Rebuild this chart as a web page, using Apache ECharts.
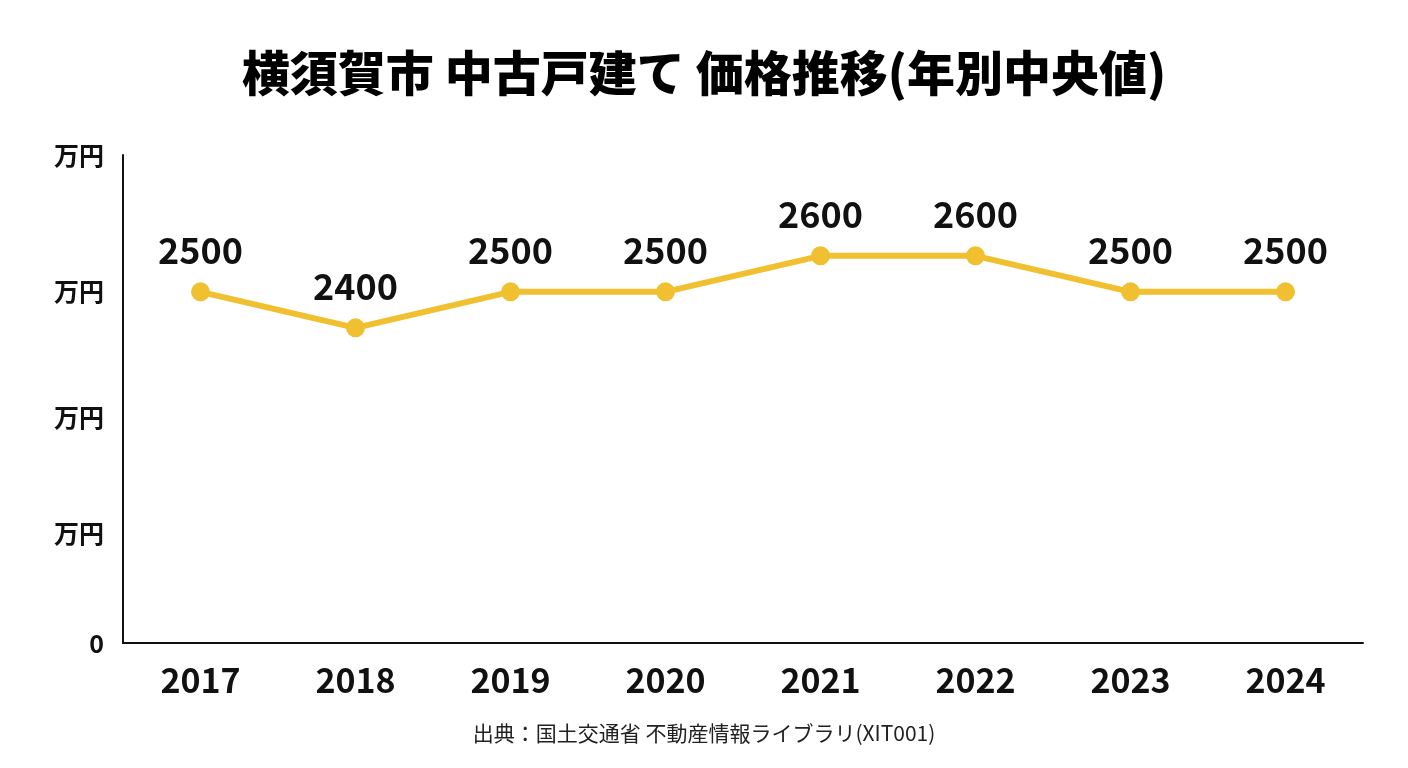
<!DOCTYPE html>
<html>
<head>
<meta charset="utf-8">
<script src="https://cdn.jsdelivr.net/npm/echarts@6/dist/echarts.min.js"></script>
<style>
html, body { margin: 0; padding: 0; background: #fff; }
#chart { width: 1408px; height: 768px; }
</style>
</head>
<body>
<div id="chart"></div>
<script>
// 年と中央値（万円）
var years = ['2017', '2018', '2019', '2020', '2021', '2022', '2023', '2024'];
var prices = [2500, 2400, 2500, 2500, 2600, 2600, 2500, 2500];
// 縦軸の目盛り位置
var yTicks = [1525, 1830, 2150, 2500, 2880];
var yMin = 1525;
var yMax = 2880;

var font = '"Noto Sans CJK JP", "Noto Sans", sans-serif';
var chart = echarts.init(document.getElementById('chart'));

chart.setOption({
	backgroundColor: '#fff',
	animation: false,
	title: {
		text: '横須賀市 中古戸建て 価格推移(年別中央値)',
		left: 'center',
		top: 44,
		textStyle: {
			fontFamily: font,
			fontSize: 48,
			fontWeight: 900,
			color: '#000'
		}
	},
	graphic: [{
		type: 'text',
		left: 'center',
		top: 723,
		style: {
			text: '出典：国土交通省 不動産情報ライブラリ(XIT001)',
			fontFamily: font,
			fontSize: 21,
			fill: '#222'
		}
	}],
	grid: {
		left: 123,
		right: 45,
		top: 155,
		bottom: 125
	},
	xAxis: {
		type: 'category',
		data: years,
		boundaryGap: true,
		axisLine: { lineStyle: { color: '#111', width: 2 } },
		axisTick: { show: false },
		axisLabel: {
			margin: 20,
			fontFamily: font,
			fontSize: 34,
			fontWeight: 'bold',
			color: '#111'
		}
	},
	yAxis: {
		type: 'value',
		min: yMin,
		max: yMax,
		splitLine: { show: false },
		axisLine: { show: true, lineStyle: { color: '#111', width: 2 } },
		axisTick: { show: false },
		axisLabel: {
			customValues: yTicks,
			margin: 19,
			fontFamily: font,
			fontSize: 25,
			fontWeight: 'bold',
			color: '#111',
			formatter: function(v) {
				return v === yMin ? '0' : '万円';
			}
		}
	},
	series: [{
		type: 'line',
		data: prices,
		symbol: 'circle',
		symbolSize: 19,
		lineStyle: { color: '#F0C030', width: 6 },
		itemStyle: { color: '#F0C030' },
		label: {
			show: true,
			position: 'top',
			distance: 14,
			fontFamily: font,
			fontSize: 36,
			fontWeight: 'bold',
			color: '#111'
		}
	}]
});
</script>
</body>
</html>
